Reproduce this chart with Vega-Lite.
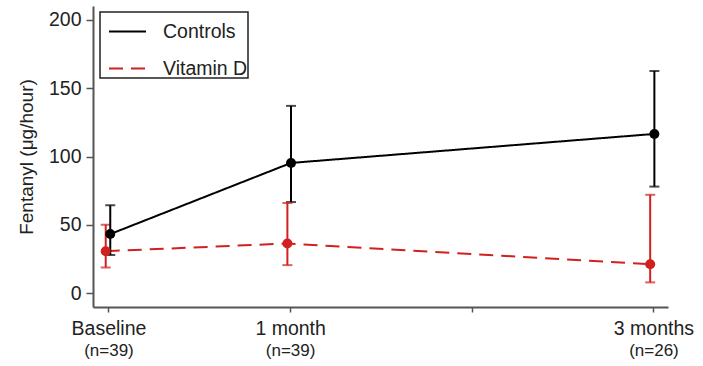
{
  "$schema": "https://vega.github.io/schema/vega-lite/v6.json",
  "width": 575,
  "height": 301,
  "autosize": {"type": "none"},
  "padding": {"left": 93, "top": 6, "right": 35, "bottom": 59},
  "background": "white",
  "config": {
    "view": {"stroke": null},
    "font": "Liberation Sans",
    "axis": {"grid": false, "labelColor": "#222222", "titleColor": "#222222", "domainColor": "#555555", "domainWidth": 2, "tickColor": "#555555", "tickWidth": 1.5}
  },
  "data": {
    "values": [
      {"group": "Controls", "month": 0.01, "mean": 43.3, "lo": 28, "hi": 64.3},
      {"group": "Controls", "month": 1.005, "mean": 95.3, "lo": 66.7, "hi": 137},
      {"group": "Controls", "month": 3.005, "mean": 116.5, "lo": 78, "hi": 162.5},
      {"group": "Vitamin D", "month": -0.015, "mean": 30.8, "lo": 18.9, "hi": 50.2},
      {"group": "Vitamin D", "month": 0.985, "mean": 36.4, "lo": 20.6, "hi": 66},
      {"group": "Vitamin D", "month": 2.982, "mean": 21.3, "lo": 8, "hi": 72}
    ]
  },
  "layer": [
    {
      "mark": {"type": "line", "strokeWidth": 2},
      "encoding": {
        "x": {
          "field": "month", "type": "quantitative",
          "scale": {"domain": [-0.085, 3.08], "nice": false, "zero": false},
          "axis": {
            "orient": "bottom", "title": null, "values": [0, 1, 2, 3],
            "labelExpr": "datum.value == 0 ? 'Baseline' : datum.value == 1 ? '1 month' : datum.value == 3 ? '3 months' : ''",
            "labelFontSize": 19.5, "tickSize": 5, "labelPadding": 7, "labelBaseline": "top", "labelFlush": false, "labelOverlap": false
          }
        },
        "y": {
          "field": "mean", "type": "quantitative",
          "scale": {"domain": [-10, 210], "nice": false, "zero": false},
          "axis": {
            "title": "Fentanyl (μg/hour)", "values": [0, 50, 100, 150, 200],
            "labelFontSize": 19.5, "tickSize": 7, "labelPadding": 5,
            "titleFontSize": 19, "titleFontWeight": "normal", "titlePadding": 12
          }
        },
        "color": {
          "field": "group", "type": "nominal",
          "scale": {"domain": ["Controls", "Vitamin D"], "range": ["#000000", "#d0201f"]},
          "legend": {
            "title": null, "orient": "none", "legendX": 7, "legendY": 6,
            "labelFontSize": 19.5, "labelColor": "#222222", "labelOffset": 16,
            "symbolSize": 1369, "symbolOffset": 8, "symbolStrokeWidth": 2, "symbolType": "stroke",
            "strokeColor": "#222222", "cornerRadius": 0, "fillColor": "white",
            "padding": 0, "rowPadding": 8,
            "encode": {
              "legend": {"update": {"strokeWidth": {"value": 1.5}}}
            }
          }
        },
        "strokeDash": {
          "field": "group", "type": "nominal",
          "scale": {"domain": ["Controls", "Vitamin D"], "range": [[1, 0], [14, 8]]},
          "legend": {"title": null}
        }
      }
    },
    {
      "mark": {"type": "errorbar", "ticks": {"size": 10}, "thickness": 2},
      "encoding": {
        "x": {"field": "month", "type": "quantitative", "axis": null},
        "y": {"field": "lo", "type": "quantitative", "title": "Fentanyl (μg/hour)"},
        "y2": {"field": "hi"},
        "color": {"field": "group", "type": "nominal", "legend": null}
      }
    },
    {
      "mark": {"type": "point", "filled": true, "shape": "circle", "size": 100, "opacity": 1},
      "encoding": {
        "x": {"field": "month", "type": "quantitative", "axis": null},
        "y": {"field": "mean", "type": "quantitative"},
        "color": {"field": "group", "type": "nominal", "legend": null}
      }
    },
    {
      "data": {
        "values": [
          {"month": 0, "n": "(n=39)"},
          {"month": 1, "n": "(n=39)"},
          {"month": 3, "n": "(n=26)"}
        ]
      },
      "mark": {"type": "point", "opacity": 0},
      "encoding": {
        "x": {
          "field": "month", "type": "quantitative",
          "axis": {
            "orient": "bottom", "title": null, "values": [0, 1, 3],
            "labelExpr": "datum.value == 3 ? '(n=26)' : '(n=39)'",
            "labelFontSize": 17, "domain": false, "ticks": false, "labelPadding": 35, "labelBaseline": "top", "labelFlush": false, "labelOverlap": false
          }
        },
        "y": {"datum": 0, "type": "quantitative"}
      }
    }
  ],
  "resolve": {"axis": {"x": "independent"}}
}
